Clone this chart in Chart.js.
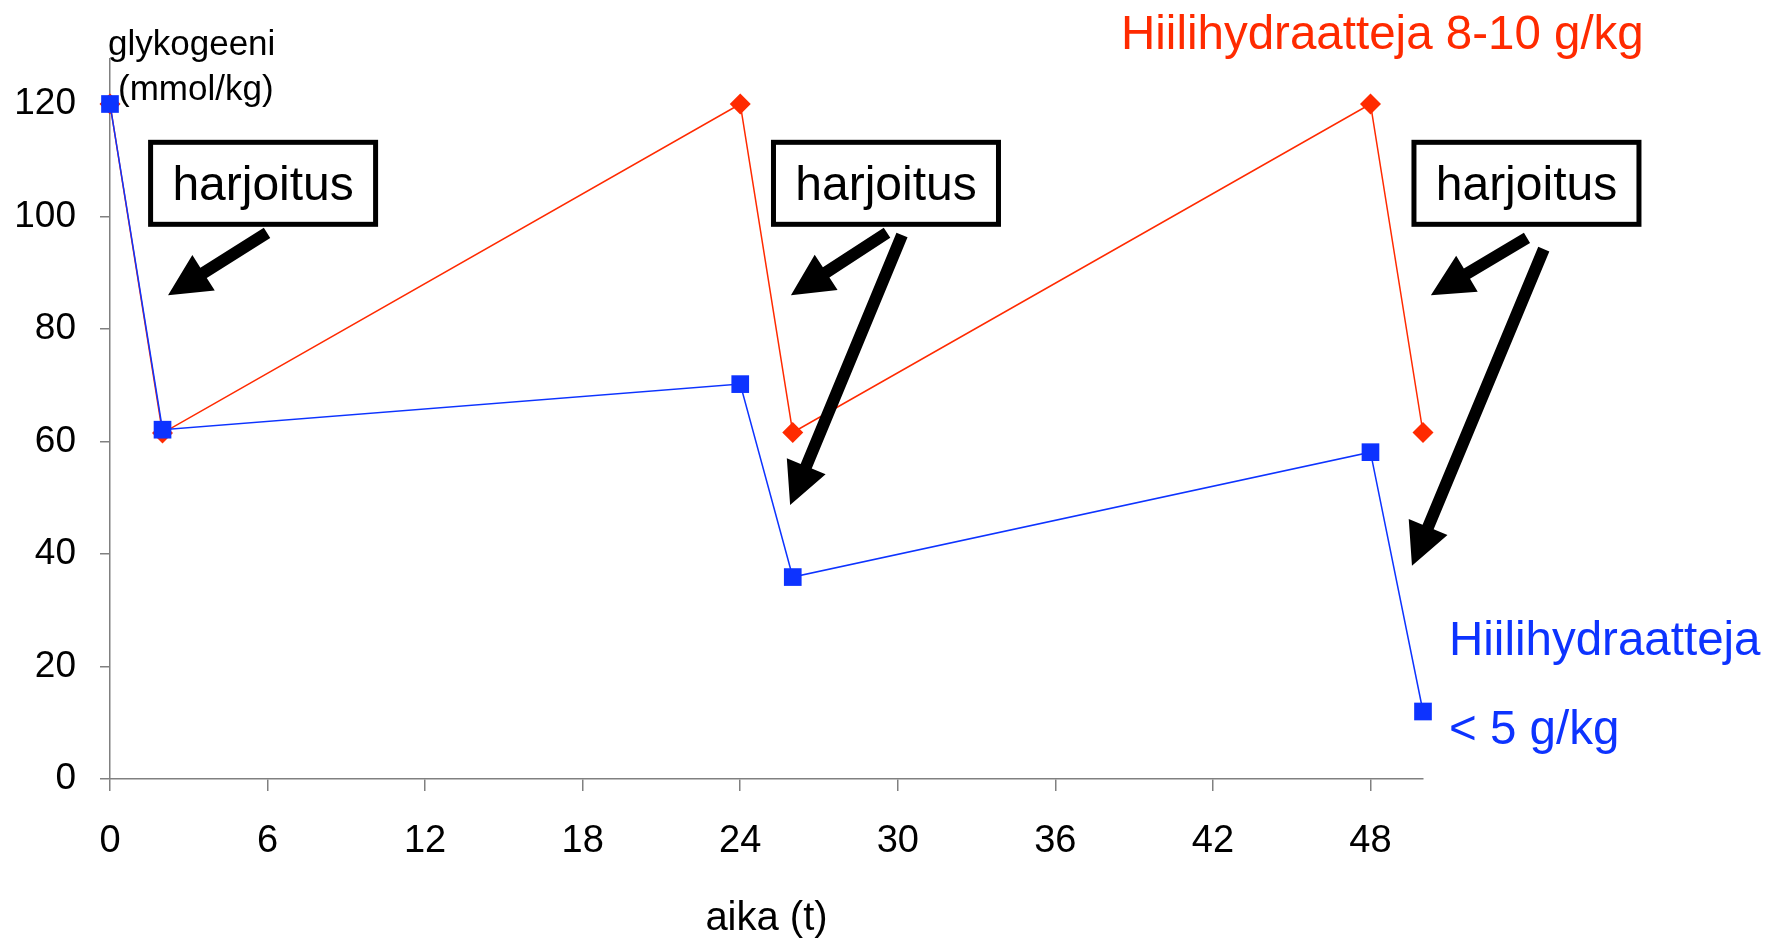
<!DOCTYPE html>
<html>
<head>
<meta charset="utf-8">
<title>glykogeeni</title>
<script src="https://cdn.jsdelivr.net/npm/chart.js@4"></script>
<style>
  html, body { margin: 0; padding: 0; background: #fff; }
  #wrap { width: 1778px; height: 938px; }
</style>
</head>
<body>
<div id="wrap"><canvas id="myChart" width="1778" height="938"></canvas></div>
<script>
'use strict'

// DATA
var hours = [0, 2, 24, 26, 48, 50];
var glycogenHighCarb = [120, 61.5, 120, 61.6, 120, 61.6];
var glycogenLowCarb = [120, 62.1, 70.2, 35.9, 58.1, 12.0];
var xTickValues = [0, 6, 12, 18, 24, 30, 36, 42, 48];
var yTickValues = [0, 20, 40, 60, 80, 100, 120];

var RED = '#ff2a00';
var BLUE = '#0d33ff';
var GREY = '#808080';
var FONT = "'Liberation Sans', Arial, sans-serif";

// ANNOTATIONS (data units)
var boxCentresX = [5.83, 29.55, 53.94];
var boxCentreY = 105.9;
// tail x, tail y, tip x, tip y
var arrows = [
	[5.98, 97.1, 2.21, 86.0],
	[29.59, 97.1, 25.93, 86.0],
	[30.16, 96.7, 25.90, 48.7],
	[53.96, 96.2, 50.30, 86.0],
	[54.6, 94.2, 49.58, 37.9]
];

function drawArrow(ctx, x1, y1, x2, y2) {
	var shaft = 12, headLen = 42, headW = 42;
	var dx = x2 - x1, dy = y2 - y1;
	var len = Math.sqrt(dx * dx + dy * dy);
	var ux = dx / len, uy = dy / len;
	var nx = -uy, ny = ux;
	var bx = x2 - ux * headLen, by = y2 - uy * headLen;
	ctx.beginPath();
	ctx.moveTo(x1 + nx * shaft / 2, y1 + ny * shaft / 2);
	ctx.lineTo(bx + nx * shaft / 2, by + ny * shaft / 2);
	ctx.lineTo(bx + nx * headW / 2, by + ny * headW / 2);
	ctx.lineTo(x2, y2);
	ctx.lineTo(bx - nx * headW / 2, by - ny * headW / 2);
	ctx.lineTo(bx - nx * shaft / 2, by - ny * shaft / 2);
	ctx.lineTo(x1 - nx * shaft / 2, y1 - ny * shaft / 2);
	ctx.closePath();
	ctx.fill();
}

var notesPlugin = {
	id: 'notes',
	afterDraw: function(chart) {
		var ctx = chart.ctx;
		var xs = chart.scales.x, ys = chart.scales.y;
		var px = function(v) { return xs.getPixelForValue(v); };
		var py = function(v) { return ys.getPixelForValue(v); };
		ctx.save();

		// y axis title, two lines
		ctx.fillStyle = '#000';
		ctx.textAlign = 'left';
		ctx.textBaseline = 'alphabetic';
		ctx.font = '35px ' + FONT;
		ctx.fillText('glykogeeni', chart.chartArea.left - 2, 55);
		ctx.fillText('(mmol/kg)', chart.chartArea.left + 8, 100);

		// exercise boxes
		boxCentresX.forEach(function(v) {
			var cx = px(v), cy = py(boxCentreY);
			var w = 230, h = 87;
			ctx.fillStyle = '#fff';
			ctx.fillRect(cx - w / 2, cy - h / 2, w, h);
			ctx.strokeStyle = '#000';
			ctx.lineWidth = 5;
			ctx.strokeRect(cx - w / 2 + 2.5, cy - h / 2 + 2.5, w - 5, h - 5);
			ctx.fillStyle = '#000';
			ctx.font = '48px ' + FONT;
			ctx.textAlign = 'center';
			ctx.fillText('harjoitus', cx, cy + 17);
		});

		// arrows
		ctx.fillStyle = '#000';
		arrows.forEach(function(a) {
			drawArrow(ctx, px(a[0]), py(a[1]), px(a[2]), py(a[3]));
		});

		// series labels
		ctx.textAlign = 'left';
		ctx.font = '47.5px ' + FONT;
		ctx.fillStyle = RED;
		ctx.fillText('Hiilihydraatteja 8-10 g/kg', px(38.5), py(129.7));
		ctx.fillStyle = BLUE;
		ctx.fillText('Hiilihydraatteja', px(50.99), py(22.0));
		ctx.fillText('< 5 g/kg', px(50.99), py(6.2));

		ctx.restore();
	}
};

var ctx = document.getElementById('myChart').getContext('2d');

var chart = new Chart(ctx, {
	type: 'line',
	data: {
		datasets: [{
			label: 'Hiilihydraatteja < 5 g/kg',
			data: hours.map(function(h, i) { return {x: h, y: glycogenLowCarb[i]}; }),
			borderColor: BLUE,
			backgroundColor: BLUE,
			borderWidth: 1.5,
			pointStyle: 'rect',
			pointRadius: 12.5,
			pointHoverRadius: 12.5,
			pointBorderWidth: 0,
			tension: 0
		},
		{
			label: 'Hiilihydraatteja 8-10 g/kg',
			data: hours.map(function(h, i) { return {x: h, y: glycogenHighCarb[i]}; }),
			borderColor: RED,
			backgroundColor: RED,
			borderWidth: 1.5,
			pointStyle: 'rectRot',
			pointRadius: 10.5,
			pointHoverRadius: 10.5,
			pointBorderWidth: 0,
			tension: 0
		}]
	},
	options: {
		responsive: false,
		animation: false,
		devicePixelRatio: 1,
		clip: false,
		layout: {
			padding: {left: 16, right: 355, top: 59, bottom: 0}
		},
		plugins: {
			legend: {display: false},
			tooltip: {enabled: false}
		},
		scales: {
			x: {
				type: 'linear',
				min: 0,
				max: 50,
				afterBuildTicks: function(scale) {
					scale.ticks = xTickValues.map(function(v) { return {value: v}; });
				},
				afterFit: function(scale) {
					scale.height = 159;
				},
				grid: {
					drawOnChartArea: false,
					drawTicks: true,
					tickLength: 12,
					color: GREY,
					lineWidth: 1.5
				},
				border: {display: true, color: GREY, width: 1.5},
				ticks: {
					color: '#000',
					padding: 28,
					maxRotation: 0,
					autoSkip: false,
					font: {family: FONT, size: 38}
				},
				title: {
					display: true,
					text: 'aika (t)',
					color: '#000',
					font: {family: FONT, size: 40},
					padding: {top: 25, bottom: -5}
				}
			},
			y: {
				type: 'linear',
				min: 0,
				max: 128,
				afterBuildTicks: function(scale) {
					scale.ticks = yTickValues.map(function(v) { return {value: v}; });
				},
				afterFit: function(scale) {
					scale.width = 94;
				},
				grid: {
					drawOnChartArea: false,
					drawTicks: true,
					tickLength: 10,
					color: GREY,
					lineWidth: 1.5
				},
				border: {display: true, color: GREY, width: 1.5},
				ticks: {
					color: '#000',
					padding: 24,
					autoSkip: false,
					font: {family: FONT, size: 37}
				}
			}
		}
	},
	plugins: [notesPlugin]
});
</script>
</body>
</html>
